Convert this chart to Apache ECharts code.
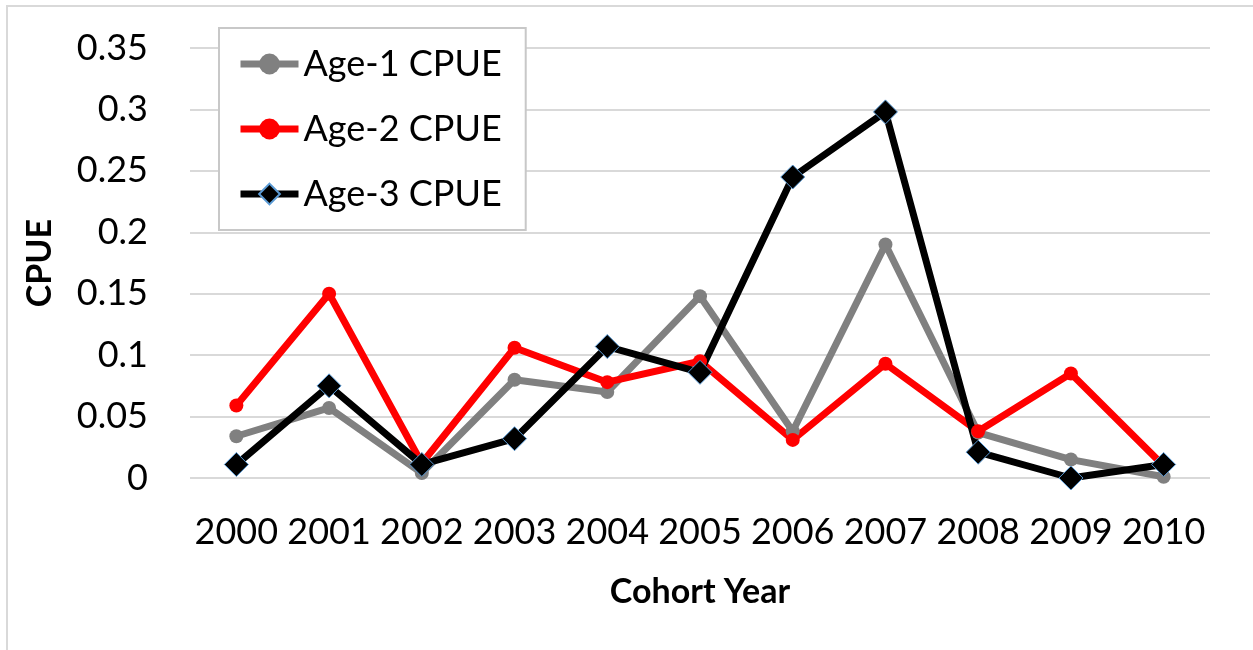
<!DOCTYPE html>
<html>
<head>
<meta charset="utf-8">
<script src="https://cdn.jsdelivr.net/npm/echarts@6/dist/echarts.min.js"></script>
<style>
  html, body { margin: 0; padding: 0; background: #fff; }
  #chart { width: 1253px; height: 650px; }
</style>
</head>
<body>
<div id="chart"></div>
<script>
// cohort years on the x axis
const years = ['2000', '2001', '2002', '2003', '2004', '2005', '2006', '2007', '2008', '2009', '2010'];

// CPUE by age
const age1 = [0.034, 0.057, 0.004, 0.080, 0.070, 0.148, 0.038, 0.190, 0.037, 0.015, 0.001];
const age2 = [0.059, 0.150, 0.012, 0.106, 0.078, 0.095, 0.031, 0.093, 0.038, 0.085, 0.010];
const age3 = [0.011, 0.075, 0.011, 0.032, 0.107, 0.086, 0.245, 0.298, 0.021, 0.000, 0.011];

const seriesNames = ['Age-1 CPUE', 'Age-2 CPUE', 'Age-3 CPUE'];

const font = 'Lato, "Open Sans", sans-serif';

const chart = echarts.init(document.getElementById('chart'));

const option = {
  animation: false,
  backgroundColor: '#fff',
  // thin frame round the whole chart, like the Excel chart area
  graphic: [{
    type: 'rect',
    shape: { x: 7, y: 6, width: 1260, height: 660 },
    style: { fill: 'none', stroke: '#D9D9D9', lineWidth: 2 },
    silent: true,
    z: -1
  }],
  grid: { left: 190, right: 43, top: 48, bottom: 172 },
  legend: {
    orient: 'vertical',
    left: 219,
    top: 28,
    padding: [18, 24, 18, 18],
    itemWidth: 58,
    itemHeight: 26,
    itemGap: 29,
    backgroundColor: '#fff',
    borderColor: '#C8C8C8',
    borderWidth: 2,
    lineStyle: { width: 7 },
    textStyle: { fontFamily: font, fontSize: 36, lineHeight: 36, color: '#000' },
    data: seriesNames
  },
  xAxis: {
    type: 'category',
    data: years,
    boundaryGap: true,
    name: 'Cohort Year',
    nameLocation: 'middle',
    nameGap: 97,
    nameTextStyle: { fontFamily: font, fontSize: 34, fontWeight: 'bold', color: '#000' },
    axisLine: { show: false },
    axisTick: { show: false },
    axisLabel: { interval: 0, fontFamily: font, fontSize: 36, color: '#000', margin: 36 }
  },
  yAxis: {
    type: 'value',
    min: 0,
    max: 0.35,
    interval: 0.05,
    name: 'CPUE',
    nameLocation: 'middle',
    nameGap: 133,
    nameTextStyle: { fontFamily: font, fontSize: 34, fontWeight: 'bold', color: '#000' },
    axisLine: { show: false },
    axisTick: { show: false },
    axisLabel: {
      fontFamily: font, fontSize: 36, color: '#000', margin: 42,
      formatter: v => String(parseFloat(v.toFixed(2)))
    },
    splitLine: { lineStyle: { color: '#D9D9D9', width: 2 } }
  },
  series: [
    {
      name: seriesNames[0],
      type: 'line',
      data: age1,
      color: '#808080',
      symbol: 'circle',
      symbolSize: 14,
      lineStyle: { width: 7, color: '#808080' },
      itemStyle: { color: '#808080' }
    },
    {
      name: seriesNames[1],
      type: 'line',
      data: age2,
      color: '#FF0000',
      symbol: 'circle',
      symbolSize: 14,
      lineStyle: { width: 7, color: '#FF0000' },
      itemStyle: { color: '#FF0000' }
    },
    {
      name: seriesNames[2],
      type: 'line',
      data: age3,
      color: '#000000',
      symbol: 'diamond',
      symbolSize: 24,
      lineStyle: { width: 7, color: '#000000' },
      itemStyle: { color: '#000000', borderColor: '#5B9BD5', borderWidth: 1 }
    }
  ]
};

chart.setOption(option);
</script>
</body>
</html>
